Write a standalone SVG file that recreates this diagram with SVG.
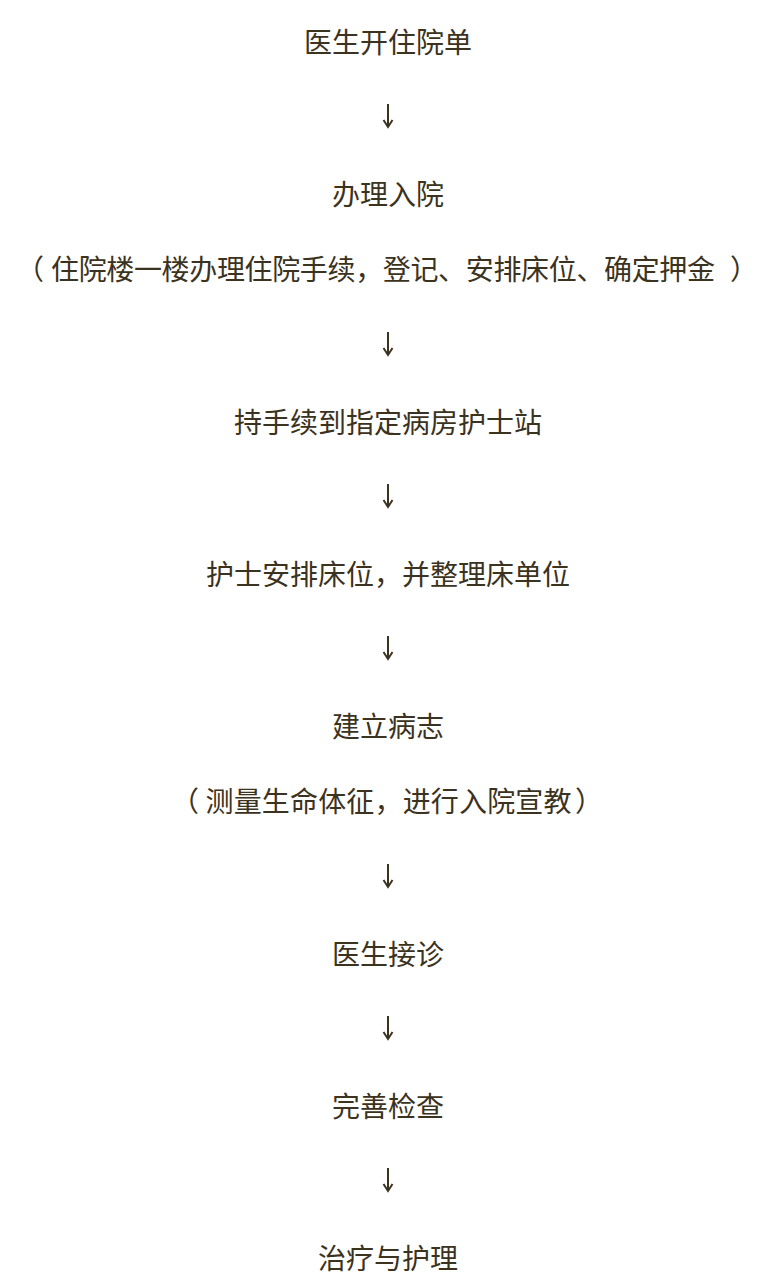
<svg xmlns="http://www.w3.org/2000/svg" width="776" height="1278" viewBox="0 0 776 1278">
<style>
.t{font-family:"Noto Sans CJK SC","Noto Sans",sans-serif;font-size:28px;fill:#3b3220;text-anchor:middle;dominant-baseline:central;text-spacing-trim:space-all}
.a{fill:none;stroke:#3b3220;stroke-width:2}
</style>
<defs>
<g id="arrow"><path class="a" d="M0,-12V10"/><path class="a" d="M-4.5,4L0,11L4.5,4"/></g>
</defs>
<rect width="776" height="1278" fill="#ffffff"/>
<g id="n1"><text class="t" x="388" y="41">医生开住院单</text></g>
<g id="n2"><text class="t" x="388" y="193">办理入院</text>
<text class="t" x="30" y="268">（</text><text class="t" x="383" y="268" textLength="664" lengthAdjust="spacing">住院楼一楼办理住院手续，登记、安排床位、确定押金</text><text class="t" x="744" y="268">）</text></g>
<g id="n3"><text class="t" x="388" y="421">持手续到指定病房护士站</text></g>
<g id="n4"><text class="t" x="388" y="573">护士安排床位，并整理床单位</text></g>
<g id="n5"><text class="t" x="388" y="725">建立病志</text>
<text class="t" x="185" y="800">（</text><text class="t" x="388.5" y="800" textLength="366" lengthAdjust="spacing">测量生命体征，进行入院宣教</text><text class="t" x="589" y="800">）</text></g>
<g id="n6"><text class="t" x="388" y="953">医生接诊</text></g>
<g id="n7"><text class="t" x="388" y="1105">完善检查</text></g>
<g id="n8"><text class="t" x="388" y="1257">治疗与护理</text></g>
<g id="connectors">
<use href="#arrow" x="388" y="116"/>
<use href="#arrow" x="388" y="344"/>
<use href="#arrow" x="388" y="496"/>
<use href="#arrow" x="388" y="648"/>
<use href="#arrow" x="388" y="876"/>
<use href="#arrow" x="388" y="1028"/>
<use href="#arrow" x="388" y="1180"/>
</g>
</svg>
